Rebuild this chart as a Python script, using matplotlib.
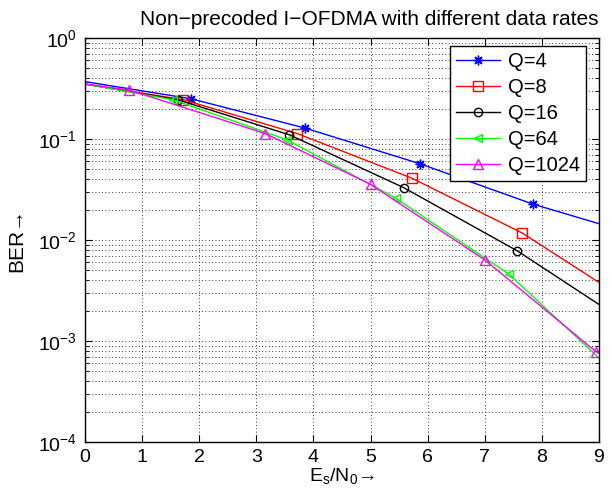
import numpy as np
import matplotlib
matplotlib.use("Agg")
import matplotlib.pyplot as plt
from matplotlib.lines import Line2D
from matplotlib.ticker import LogLocator, NullFormatter

plt.rcParams["font.family"] = ["Liberation Sans", "DejaVu Sans"]
plt.rcParams["mathtext.fontset"] = "custom"
plt.rcParams["mathtext.rm"] = "Liberation Sans"
plt.rcParams["mathtext.it"] = "Liberation Sans:italic"
plt.rcParams["mathtext.default"] = "regular"

# data (line vertices; markers sit on the inner vertices)
x_q4 = [0, 1.86, 3.86, 5.86, 7.84, 9]
ber_q4 = [0.37, 0.25, 0.128, 0.057, 0.0227, 0.0145]

x_q8 = [0, 1.72, 3.72, 5.72, 7.66, 9]
ber_q8 = [0.35, 0.245, 0.113, 0.041, 0.0117, 0.0038]

x_q16 = [0, 1.62, 3.58, 5.58, 7.57, 9]
ber_q16 = [0.35, 0.245, 0.11, 0.033, 0.0078, 0.0023]

x_q64 = [0, 1.54, 3.54, 5.44, 7.42, 9]
ber_q64 = [0.35, 0.245, 0.098, 0.026, 0.0046, 0.00068]

x_q1024 = [0, 0.77, 3.16, 5.0, 7.01, 8.95, 9]
ber_q1024 = [0.35, 0.306, 0.113, 0.0356, 0.0063, 0.00078, 0.00076]

labels = ["Q=4", "Q=8", "Q=16", "Q=64", "Q=1024"]
series = [(x_q4, ber_q4), (x_q8, ber_q8), (x_q16, ber_q16),
          (x_q64, ber_q64), (x_q1024, ber_q1024)]
colors = ["#0000ff", "#ff0000", "#000000", "#00ff00", "#ff00ff"]
markers = [(8, 2, 0), "s", "o", "<", "^"]
msizes = [7, 7, 6, 6, 7]

fig = plt.figure(figsize=(6.12, 4.88), dpi=100)
ax = fig.add_axes([85 / 612, 1 - 442 / 488, 514 / 612, 404 / 488])

handles = []
for (xs, ys), c, m, ms, lab in zip(series, colors, markers, msizes, labels):
    mk = list(range(1, len(xs) - 1))
    ax.plot(xs, ys, color=c, lw=1.0, marker=m, markevery=mk, ms=ms,
            mfc="none", mec=c, mew=1.0)
    handles.append(Line2D([0], [0], color=c, lw=1.0, marker=m, ms=ms,
                          mfc="none", mec=c, mew=1.0))

ax.set_yscale("log")
ax.set_xlim(0, 9)
ax.set_ylim(1e-4, 1)
ax.set_xticks(range(0, 10))
ax.yaxis.set_major_locator(LogLocator(base=10, numticks=10))
ax.yaxis.set_minor_locator(LogLocator(base=10, subs=np.arange(2, 10), numticks=10))
ax.yaxis.set_minor_formatter(NullFormatter())

ax.grid(True, which="major", color="black", linestyle=(0, (1, 3)), lw=0.6)
ax.grid(True, which="minor", axis="y", color="black", linestyle=(0, (1, 3)), lw=0.6)

ax.tick_params(which="both", direction="in", top=True, right=True, labelsize=14)
ax.tick_params(which="major", length=5)
ax.tick_params(which="minor", length=3)
ax.tick_params(axis="x", pad=5)
ax.tick_params(axis="y", pad=6)
for s in ax.spines.values():
    s.set_linewidth(1.0)

ax.set_title("Non\u2212precoded I\u2212OFDMA with different data rates",
             fontsize=15, loc="right", pad=9)
ax.set_xlabel("E$_s$/N$_0$\u2192", fontsize=14, labelpad=0)
ax.set_ylabel("BER\u2192", fontsize=15, labelpad=8)

leg = ax.legend(handles, labels, loc="upper right", fontsize=14.5,
                fancybox=False, framealpha=1, edgecolor="black",
                handlelength=2.2, handletextpad=0.4, borderpad=0.3,
                borderaxespad=0, labelspacing=0.35,
                bbox_to_anchor=(0.975, 0.980))
leg.get_frame().set_linewidth(1.0)

fig.savefig("out.png", dpi=100)
